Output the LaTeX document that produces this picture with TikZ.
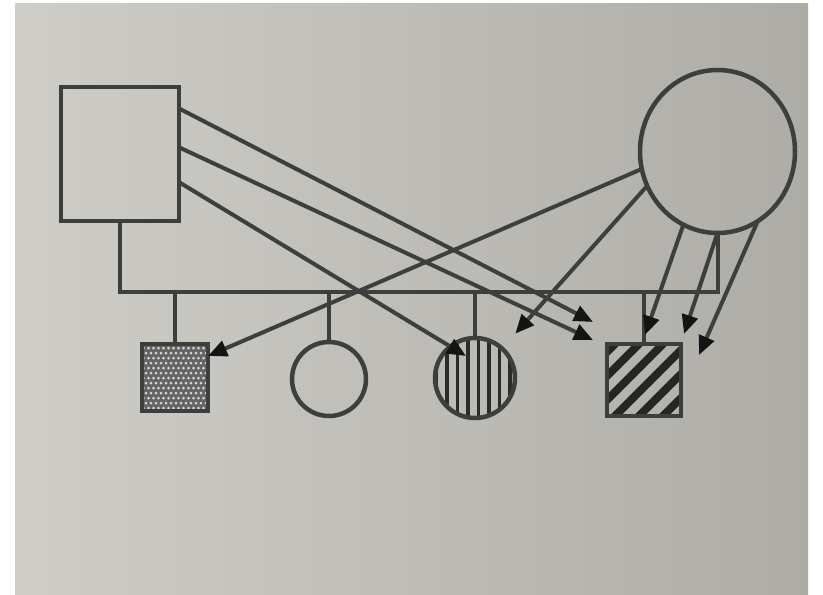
\documentclass[tikz,border=0pt]{standalone}
\usetikzlibrary{arrows.meta,calc,shapes.geometric}
\definecolor{ink}{RGB}{62,62,62}
\definecolor{tipc}{RGB}{20,20,20}
\definecolor{paperL}{RGB}{207,205,200}
\definecolor{paperR}{RGB}{174,172,167}
\definecolor{dotfill}{RGB}{100,100,100}
\definecolor{dotlight}{RGB}{215,215,212}
\begin{document}
\begin{tikzpicture}[x=1pt,y=-1pt,
  link/.style={draw=ink,line width=4pt},
  arr/.style={link,-{Triangle[length=19pt,width=16pt,color=tipc]}},
  outline/.style={draw=ink,line width=4.5pt,inner sep=0pt,outer sep=0pt},
  male/.style={outline,rectangle},
  female/.style={outline,circle},
  vstripe/.style={draw=ink!70!black,line width=3.5pt},
  dstripe/.style={draw=ink!60!black,line width=8pt}]

% paper
\useasboundingbox (0,0) rectangle (823,595);
\fill[white] (0,0) rectangle (823,595);
\shade[left color=paperL,right color=paperR] (15,3) rectangle (808,595);

% fills of the affected children
\begin{scope}
  \clip (142,344) rectangle (208,411);
  \fill[dotfill] (142,344) rectangle (208,411);
  \foreach \i in {0,...,14}
    \foreach \j in {0,...,14}
      \fill[dotlight] ({141+5*\i+2.5*mod(\j,2)},{343+5*\j}) circle (1.5pt);
\end{scope}
\begin{scope}
  \clip (475,378) circle (40pt);
  \foreach \k in {-1,...,6}
    \draw[vstripe] ({447+10.5*\k},330) -- ({447+10.5*\k},430);
\end{scope}
\begin{scope}
  \clip (607,344) rectangle (681,416);
  \foreach \c in {959,983,...,1079}
    \draw[dstripe] ({\c-330},330) -- ({\c-430},430);
\end{scope}

% parents
\node[male,minimum width=118pt,minimum height=134pt] (father) at (120,154) {};
\node[outline,ellipse,minimum width=155pt,minimum height=163pt] (mother) at (717.5,151.5) {};

% children
\node[male,minimum width=66pt,minimum height=67pt] (c1) at (175,377.5) {};
\node[female,minimum size=74pt] (c2) at (329,379) {};
\node[female,minimum size=80pt] (c3) at (475,378) {};
\node[male,minimum width=74pt,minimum height=72pt] (c4) at (644,380) {};

% mating line and sibship
\coordinate (sib) at (717,292);
\draw[link] (father.south) |- (mother.south |- sib) -- (mother.south);
\foreach \c in {c1,c2,c3,c4}
  \draw[link] (\c.north) -- (\c.north |- sib);

% transmission arrows from the father
\draw[arr] ($(father.north east)!0.16!(father.south east)$) -- ($(c4.north west)+(-14,-22)$);
\draw[arr] ($(father.north east)!0.45!(father.south east)$) -- ($(c4.north west)+(-14,-4)$);
\draw[arr] ($(father.north east)!0.71!(father.south east)$) -- ($(c3.center)+(-9,-22)$);

% transmission arrows from the mother
\draw[arr] (mother.193) -- ($(c1.north east)+(0,12)$);
\draw[arr] (mother.206) -- ($(c3.north east)+(12,-16)$);
\draw[arr] (mother.245) -- ($(c4.north)+(1,-9)$);
\draw[arr] (mother.270) -- ($(c4.north east)+(3,-10)$);
\draw[arr] (mother.300) -- ($(c4.north east)+(18,11)$);
\end{tikzpicture}
\end{document}
